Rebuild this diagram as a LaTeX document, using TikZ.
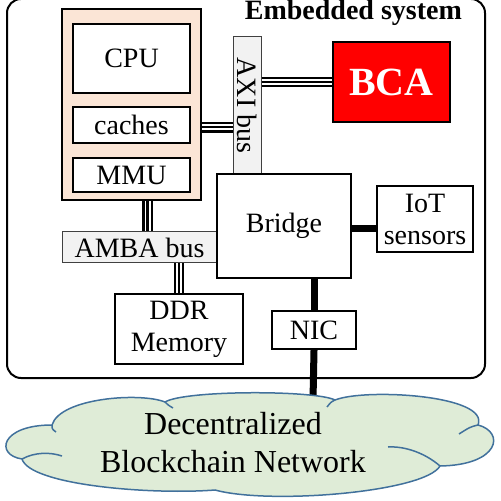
\documentclass[tikz,border=0pt]{standalone}
\usepackage{fontspec}
\setmainfont{Liberation Serif}
\usepackage{xcolor}
\usetikzlibrary{positioning,calc}
\definecolor{pinkfill}{HTML}{FBE5D6}
\definecolor{busfill}{HTML}{F2F2F2}
\definecolor{cloudfill}{HTML}{DFECD7}
\definecolor{cloudline}{HTML}{41719C}
\definecolor{bcared}{HTML}{FF0000}
\tikzstyle{block} = [rectangle, draw, line width=1.1pt, fill=white, align=center, inner sep=0pt, font=\fontsize{14}{16}\selectfont]
\tikzstyle{bus} = [rectangle, draw=black!75, line width=0.5pt, fill=busfill, inner sep=0pt, font=\fontsize{14}{16}\selectfont]
\tikzstyle{wire} = [draw, line width=3.5pt]
\tikzstyle{triple} = [draw, line width=1.2pt, preaction={draw, line width=5.4pt}, preaction={draw, white, line width=3pt}]
\tikzstyle{puff} = [draw=cloudline, line width=0.75pt]

\begin{document}
\begin{tikzpicture}[x=0.5pt, y=-0.5pt]
\useasboundingbox (0,0) rectangle (501,501);
\node [draw, line width=1pt, rounded corners=7pt, minimum width=239pt, minimum height=189.5pt, inner sep=0pt] (sys) at (246,188.5) {};
\node [anchor=base east, font=\bfseries\fontsize{14}{16}\selectfont] (title) at ($(sys.north east)+(-17,22)$) {Embedded system};

\node [rectangle, draw, line width=1.3pt, fill=pinkfill, minimum width=69.5pt, minimum height=95.5pt] (cluster) at (131.5,104.5) {};
\node [block, minimum width=58.5pt, minimum height=34.5pt] (cpu) at (131.5,58.5) {CPU};
\node [block, minimum width=58.5pt, minimum height=18pt, below=6pt of cpu] (caches) {caches};
\node [block, minimum width=58.5pt, minimum height=17pt, below=6.5pt of caches] (mmu) {MMU};

\node [bus, rotate=-90, minimum width=68.5pt, minimum height=14pt] (axi) at (247,105.5) {AXI bus};
\node [bus, minimum width=77.5pt, minimum height=15.5pt] (amba) at (139.5,247.5) {AMBA bus};
\node [block, fill=bcared, text=white, minimum width=58.5pt, minimum height=40pt, font=\bfseries\fontsize{20}{24}\selectfont] (bca) at (391.5,82) {BCA};
\node [block, minimum width=67pt, minimum height=52pt] (bridge) at (284,226) {Bridge};
\node [block, minimum width=48pt, minimum height=33pt] (iot) at (425,219) {IoT\\sensors};
\node [block, minimum width=64pt, minimum height=35pt] (ddr) at (179,329) {DDR\\Memory};
\node [block, minimum width=42pt, minimum height=19pt] (nic) at (314,330) {NIC};
\coordinate (cl) at (313,400);

\path [triple] ([yshift=-1pt]caches.east -| cluster.east) -- ([yshift=-1pt]caches.east -| axi.south);
\path [triple] (bca.west -| axi.north) -- (bca.west);
\path [triple] ([xshift=8pt]cluster.south) -- ([xshift=8pt]cluster.south |- amba.north);
\path [triple] (ddr.north |- amba.south) -- (ddr.north);
\path [wire] ([yshift=-1.5pt]bridge.east) -- ([yshift=-1.5pt]bridge.east -| iot.west);
\path [wire] (nic.north |- bridge.south) -- (nic.north);
\path [wire] (nic.south) -- (cl);

% cloud
\path [puff, fill=cloudfill] (22,459) .. controls (-5,455) and (0,425) .. (52,425)
  .. controls (60,398) and (140,392) .. (165,402)
  .. controls (185,390) and (315,390) .. (335,400)
  .. controls (365,388) and (490,395) .. (478,425)
  .. controls (505,432) and (500,465) .. (440,466)
  .. controls (425,492) and (270,505) .. (215,490)
  .. controls (150,495) and (30,485) .. (22,459) -- cycle;
\draw [puff] (22,459) .. controls (35,452) and (50,452) .. (62,456);
\draw [puff] (52,425) .. controls (52,429) .. (56,432);
\draw [puff] (165,402) .. controls (168,405) .. (173,408);
\draw [puff] (335,400) .. controls (331,402) .. (327,407);
\draw [puff] (478,425) .. controls (470,427) .. (459,434);
\draw [puff] (440,466) .. controls (425,453) and (405,446) .. (388,447);
\node [align=center, font=\fontsize{16}{19}\selectfont] (net) at (233,443) {Decentralized\\Blockchain Network};
\end{tikzpicture}
\end{document}
